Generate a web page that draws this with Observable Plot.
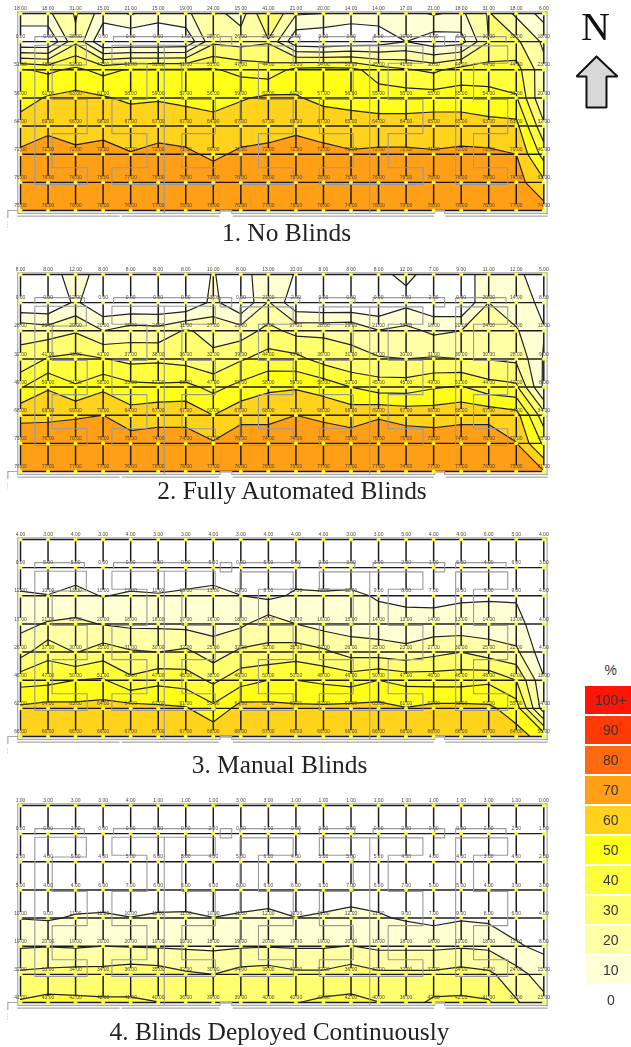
<!DOCTYPE html>
<html>
<head>
<meta charset="utf-8">
<script src="https://cdn.jsdelivr.net/npm/d3@7"></script>
<script src="https://cdn.jsdelivr.net/npm/@observablehq/plot@0.6"></script>
<style>
html,body{margin:0;padding:0;background:#fff;}
#page{position:relative;width:631px;height:1047px;overflow:hidden;background:#fff;}
#page svg{position:absolute;background:transparent;filter:blur(0.5px);overflow:visible;}
.cap{position:absolute;width:572px;text-align:center;font-family:"Liberation Serif",serif;font-size:25.4px;line-height:30px;color:#222;white-space:nowrap;filter:blur(0.3px);}
</style>
</head>
<body>
<div id="page"></div>
<script>
// Illuminance percentages. Rows run north to south.
const noBlindsRows = [
  [18,18,31,15,21,15,19,24,15,41,21,20,14,14,17,21,18,31,18,6],
  [0,0,28,0,0,0,1,28,26,29,2,0,3,5,10,4,6,30,32,18],
  [51,48,52,47,51,51,51,51,47,44,53,54,53,45,41,38,44,44,44,23],
  [56,61,63,61,58,59,57,56,59,62,61,57,56,55,55,55,55,54,51,20],
  [64,69,66,68,67,67,67,64,67,67,69,67,65,64,64,65,65,63,63,32],
  [72,72,72,72,70.3,72,71,69,71,72,72,72,71,72,72,71,72,72,70,46],
  [76,76,76,76,77,76,76,73,76,76,76,75,76,76,76,76,76,76,74,62],
  [75,76,76,76,76,77,76,76,76,77,76,76,74,76,76,76,76,76,77,74]
];
// These two are listed column by column, west to east.
const automatedColumns = [
  [8,0,28,32,49,68,75,76],[8,0,25,41,59,68,76,77],[12,12,29,42.5,51,69,76,77],[8,0,20,40.5,58,70,76,77],
  [8,0,25,37,53,64,75,76],[8,0,24,38,52,67,74,76],[8,0,31,36,53,67,74,76],[10.2,13,27,32,47,60,71,77],
  [8,0,25,39,53,67,76,76],[13,21,33,44,58,68,74,76],[9.7,2,27,43,59,70,74,76],[8,0,28,36,56,68,76,77],
  [8,0,29,31,50,66,75,77],[8,0,20.5,31,45,69,76,77],[12,7,23,30,45,67,75,74],[6.5,2,18,31,49,66,75,77],
  [9,0,20,30,51,68,74,77],[11,20,24,29.5,44,67,76,76],[12,14,21,28,42,64,70.3,75],[5,8,10.5,9,8,34,48,70.5]
];
const manualColumns = [
  [4,0,12,17,26,46,62,66],[3,5,10.2,21,37,47,64,66],[4,5,13,22,29.5,50,63,66],[3,0,9.5,19.5,35,51,64,66],
  [4,0,12,18,31,42,64,67],[3,0,11,18,30,47,62,67],[3,0,13,17,32,45,61,67],[4,5,13,16,25,38,52.5,68],
  [3,0,10.2,18,32,46,64,68],[4,5,7.5,26,32,50,63,67],[4,5,11.5,20,35,50,62,66],[4,0,12,16,32,48,62,66],
  [3,3,12,15,26,46,63,66],[3,3,9,14,25,50,63,66],[5,2,8,13,23,47,60.5,66],[4,1,7,14,27,46,63,66],
  [4,6,9,13,30,46,63,66],[6,4,9,14,25,48,62,67],[5,6,9,13,22,40,55,64],[4,3,4,4,4,11,14,56]
];
const continuousRows = [
  [1,3,3,3,4,1,1,1,3,3,1,1,1,1,1,1,1,3,1,0],
  [0,0,2,0,0,0,0,2,0,2,0,0,0,0,2,0,0,2,2,1],
  [2,4,5,4,5,6,5,4,5,6,4,5,5,5,4,4,4,3,4,2],
  [5,4,4,6,7,6,6,6,6,6,6,6,7,6,7,5,5,4,3,3],
  [9.7,9,11,11,10.1,11,11.2,10.1,11,12,10.1,11,12,11,9,7,9,8,6,4],
  [19,19.7,19,20,19.5,19,18.5,18,19,19.5,19,19,20.2,18,18,18,19,18,11,8],
  [32,33,34,34,36,35,31.5,30,34,35,32,32,35.5,32,32,32,34,32,24,15],
  [41,43,42,41.5,41,40.1,36,39,39,39.5,39.7,42,42,40.2,36,42,42,41,31,23]
];
const captions = ["1. No Blinds","2. Fully Automated Blinds","3. Manual Blinds","4. Blinds Deployed Continuously"];
const thresholds = [10,20,30,40,50,60,70,80,90,100];
const bandColors = ["#ffffff","#ffffd4","#ffffa6","#ffff70","#ffff3c","#ffff18","#ffd21c","#ff9f16","#ff6a10","#ff3a06","#ff1408"];
const legendLabels = ["%","100+","90","80","70","60","50","40","30","20","10","0"];
const legendColors = ["#ffffff","#ff1408","#ff3a06","#ff6a10","#ff9f16","#ffd21c","#ffff18","#ffff3c","#ffff70","#ffffa6","#ffffd8","#ffffff"];
// Floor plan walls, in grid units (column, row).
const walls = [
  [[.52,1.03],[.52,.82],[2.32,.82],[2.32,1.03]],
  [[.52,1.13],[2.39,1.13],[2.39,1.83],[1.15,1.83],[1.15,3.05],[2.42,3.05],[2.42,4.27],[1.15,4.27],[1.15,5.48],[2.42,5.48],[2.42,6.07],[.52,6.07],[.52,1.13]],
  [[3.38,1.03],[3.38,.82],[7,.82],[7,1.03]],
  [[3.32,1.13],[3.32,1.77],[4.59,1.77],[4.59,3.05],[3.32,3.05],[3.32,4.27],[4.59,4.27],[4.59,5.48],[3.32,5.48],[3.32,6.07],[7.07,6.07],[7.07,5.48],[5.86,5.48],[5.86,4.27],[7.07,4.27],[7.07,3.05],[5.86,3.05],[5.86,1.77],[7.07,1.77],[7.07,1.13],[3.32,1.13]],
  [[5.22,1.13],[5.22,7.08]],
  [[7.25,.82],[7.67,.82],[7.67,1.15],[7.25,1.15],[7.25,.82]],
  [[7.97,1.03],[7.97,.82],[10.14,.82],[10.14,1.03]],
  [[7.97,1.15],[9.9,1.15],[9.9,1.77],[8.64,1.77],[8.64,3.05],[9.9,3.05],[9.9,4.27],[8.64,4.27],[8.64,5.48],[9.9,5.48],[9.9,6.07],[7.97,6.07],[7.97,1.15]],
  [[10.85,1.03],[10.85,.82],[12.14,.82],[12.14,1.03]],
  [[10.85,1.15],[12.68,1.15],[14.61,1.15],[14.61,1.77],[13.35,1.77],[13.35,3.05],[14.61,3.05],[14.61,4.27],[13.35,4.27],[13.35,5.48],[14.61,5.48],[14.61,6.07],[10.85,6.07],[10.85,5.48],[12.08,5.48],[12.08,4.27],[10.85,4.27],[10.85,3.05],[12.08,3.05],[12.08,1.77],[10.85,1.77],[10.85,1.15]],
  [[12.68,1.15],[12.68,7.08]],
  [[12.8,1.03],[12.8,.82],[15.04,.82],[15.4,.82],[15.4,1.15],[15.04,1.15],[15.04,.82]],
  [[15.8,1.03],[15.8,.82],[17.63,.82],[17.63,1.03]],
  [[15.8,1.15],[17.69,1.15],[17.69,1.77],[16.45,1.77],[16.45,3.05],[17.69,3.05],[17.69,4.27],[16.45,4.27],[16.45,5.48],[17.69,5.48],[17.69,6.07],[15.8,6.07],[15.8,1.15]]
];
const frameWalls = [
  [[-.1,7.08],[-.1,-.06],[19.12,-.06],[19.12,7.12]],
  [[-.1,7.1],[7.25,7.1],[7.25,7],[7.67,7],[7.67,7.1],[15.04,7.1],[15.04,7],[15.4,7],[15.4,7.1],[19.12,7.1]],
  [[-.1,7.2],[3.58,7.2]],[[3.7,7.2],[7.2,7.2]],[[7.72,7.2],[15,7.2]],[[15.45,7.2],[19.12,7.2]],
  [[-.46,7.25],[-.46,7],[-.1,7]]
];
const tinyMark = [[-.47,7.42],[-.47,7.5],[-.47,7.58]];
const arrowX = [596,617,606,606,586,586,576,596];
const arrowY = [56,76,76,107,107,76,76,56];

const page = document.getElementById("page");
function place(el, left, top){ el.style.left = left+"px"; el.style.top = top+"px"; page.appendChild(el); }

const panels = [
  {rows: noBlindsRows, top: 12.7, cap: 217, capLeft: 0.5},
  {rows: d3.transpose(automatedColumns), top: 274, cap: 475, capLeft: 6},
  {rows: d3.transpose(manualColumns), top: 539.3, cap: 749, capLeft: -6.5},
  {rows: continuousRows, top: 805.3, cap: 1016, capLeft: -6.5}
];
const fmt = d3.format(".2f");
// Vertical lines stop just short of the label above the next node.
const verticalRuns = d3.range(20).flatMap(col => d3.range(7).map(row => ({col, from: row, to: row + 0.8})));
panels.forEach((p, k) => {
  const nodes = p.rows.flatMap((r, j) => r.map((v, i) => ({col: i, row: j, v})));
  const values = p.rows.flat();
  const grid = {x1: -0.5, x2: 19.5, y1: -0.5, y2: 7.5, width: 20, height: 8, thresholds};
  const chart = Plot.plot({
    width: 560, height: 257,
    marginTop: 20, marginBottom: 40, marginLeft: 20, marginRight: 16.7,
    x: {domain: [0, 19], axis: null},
    y: {domain: [0, 7], reverse: true, axis: null},
    color: {type: "threshold", domain: thresholds, range: bandColors},
    style: {background: "transparent"},
    marks: [
      Plot.contour(values, {...grid, fill: Plot.identity, stroke: "none", clip: true}),
      Plot.ruleX(verticalRuns, {x: "col", y1: "from", y2: "to", stroke: "#1c1c1c", strokeWidth: 1.5}),
      Plot.ruleY(d3.range(8), {x1: 0, x2: 19, stroke: "#1c1c1c", strokeWidth: 1.4}),
      Plot.contour(values, {...grid, stroke: "#222", fill: "none", strokeWidth: 1.2, clip: true}),
      ...walls.map(w => Plot.line(w, {x: "0", y: "1", stroke: "#9a9a9a", strokeWidth: 1.1})),
      ...frameWalls.map(w => Plot.line(w, {x: "0", y: "1", stroke: "#a8a8a8", strokeWidth: 1.2})),
      Plot.dot(nodes, {x: "col", y: "row", r: 1.9, fill: "#ffff2a", stroke: "none"}),
      Plot.text(nodes, {x: "col", y: "row", text: d => fmt(Math.round(d.v)), dy: -5, fontSize: 5, fontFamily: "Liberation Sans", fill: "#4a4a38"}),
      Plot.dot(tinyMark, {x: "0", y: "1", r: 0.6, fill: "#7fdde6"})
    ]
  });
  place(chart, 0, p.top - 20);
  const c = document.createElement("div");
  c.className = "cap";
  c.textContent = captions[k];
  place(c, p.capLeft, p.cap);
});

const legend = Plot.plot({
  width: 46, height: 368, margin: 0,
  x: {domain: [0, 1], axis: null},
  y: {domain: legendLabels, axis: null, padding: 0.06},
  marks: [
    Plot.cell(legendLabels, {y: d => d, fill: (d, i) => legendColors[i], stroke: "none"}),
    Plot.text(legendLabels, {y: d => d, x: 0.55, text: d => d, fontSize: 14, fontFamily: "Liberation Sans", fill: "#3a3530"})
  ]
});
place(legend, 585, 651);

const compass = Plot.plot({
  width: 70, height: 120, margin: 0,
  x: {domain: [561, 631], axis: null},
  y: {domain: [0, 120], reverse: true, axis: null},
  marks: [
    Plot.text(["N"], {x: [595], y: [27], fontSize: 40, fontFamily: "Liberation Serif", fill: "#111"}),
    Plot.line(arrowX.map((x, i) => [x, arrowY[i]]), {x: "0", y: "1", stroke: "#111", strokeWidth: 2, fill: "#d8d8d8", strokeLinejoin: "miter"})
  ]
});
place(compass, 561, 0);
</script>
</body>
</html>
